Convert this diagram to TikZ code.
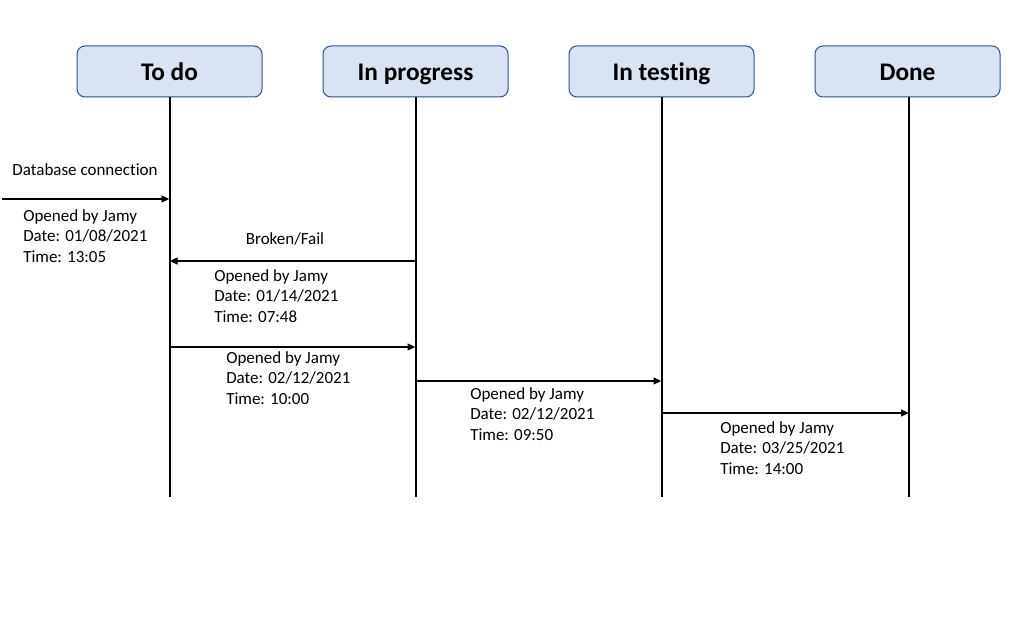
\documentclass[tikz,border=0pt]{standalone}
\usepackage{fontspec}
\setmainfont{Carlito}[Ligatures={NoCommon}]
\usetikzlibrary{arrows.meta}
\definecolor{boxfill}{HTML}{DAE3F3}
\definecolor{boxline}{HTML}{2F528F}
\tikzset{
	every node/.style = {font=\fontsize{12.75}{15.4}\selectfont},
	state/.style = {draw=boxline, fill=boxfill, line width=0.75pt, rounded corners=6pt, minimum width=138.75pt, minimum height=38.25pt, text height=15pt, text depth=1.5pt, font=\fontsize{19}{22}\selectfont\bfseries},
	lifeline/.style = {line width=1.5pt, black},
	msg/.style = {-{Triangle[length=6pt,width=5pt]}, line width=1.5pt, black},
	note/.style = {anchor=north west, align=left, inner sep=0pt}
}
\begin{document}
\begin{tikzpicture}[x=0.75pt, y=-0.75pt]
		\useasboundingbox[fill=white] (0,0) rectangle (1018,642);
		% states
		\node[state] (todo) at (169.5,71.5) {To do};
		\node[state] (inprog) at (415.5,71.5) {In progress};
		\node[state] (intest) at (661.5,71.5) {In testing};
		\node[state] (done) at (907.5,71.5) {Done};
		% lifelines
		\coordinate (todoend) at (169.5,497);
		\coordinate (inprogend) at (415.5,497);
		\coordinate (intestend) at (661.5,497);
		\coordinate (donetop) at (909,97);
		\coordinate (doneend) at (909,497);
		\draw[lifeline] (todo.south) -- (todoend);
		\draw[lifeline] (inprog.south) -- (inprogend);
		\draw[lifeline] (intest.south) -- (intestend);
		\draw[lifeline] (donetop) -- (doneend);
		% messages
		\coordinate (start) at (2,199);
		\coordinate (todoa) at (169.5,199);
		\coordinate (inproga) at (415.5,261);
		\coordinate (todob) at (169.5,261);
		\coordinate (todoc) at (169.5,347);
		\coordinate (inprogc) at (415.5,347);
		\coordinate (inprogd) at (415.5,381);
		\coordinate (intestd) at (661.5,381);
		\coordinate (inteste) at (661.5,413);
		\coordinate (donee) at (909,413);
		\draw[msg] (start) -- (todoa);
		\draw[msg] (inproga) -- (todob);
		\draw[msg] (todoc) -- (inprogc);
		\draw[msg] (inprogd) -- (intestd);
		\draw[msg] (inteste) -- (donee);
		% labels
		\node (dbconn) at (85,170) {Database connection};
		\node (broken) at (285,238.5) {Broken/Fail};
		\node[note] (notea) at (23,209) {Opened by Jamy\\Date: 01/08/2021\\Time: 13:05};
		\node[note] (noteb) at (214,269) {Opened by Jamy\\Date: 01/14/2021\\Time: 07:48};
		\node[note] (notec) at (226,351) {Opened by Jamy\\Date: 02/12/2021\\Time: 10:00};
		\node[note] (noted) at (470,387) {Opened by Jamy\\Date: 02/12/2021\\Time: 09:50};
		\node[note] (notee) at (720,421) {Opened by Jamy\\Date: 03/25/2021\\Time: 14:00};
	\end{tikzpicture}
\end{document}
